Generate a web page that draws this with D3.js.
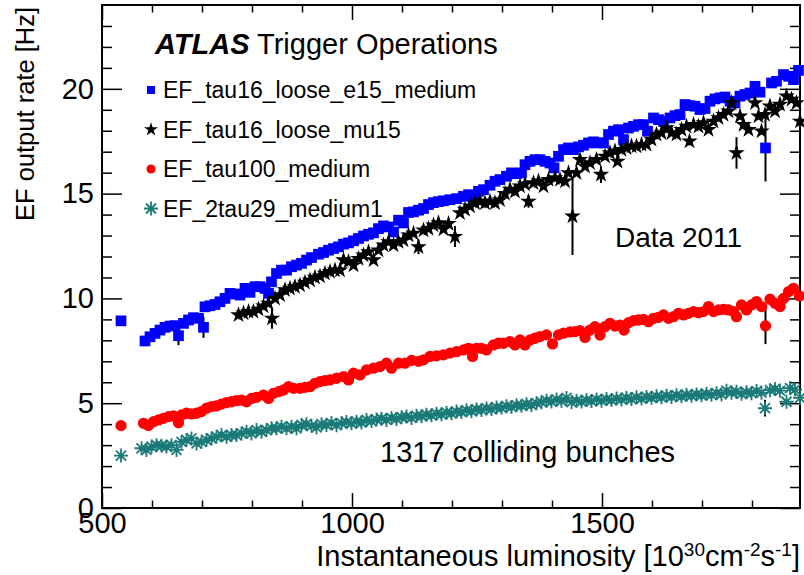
<!DOCTYPE html>
<html><head><meta charset="utf-8">
<script src="https://cdn.jsdelivr.net/npm/d3@7"></script>
<style>
body{margin:0;background:#fff}
text{font-family:"Liberation Sans",Arial,Helvetica,sans-serif;fill:#000}
</style>
</head><body>
<svg id="c" width="804" height="575"></svg>
<script>
// ---------------- data ----------------
const xMajorTicks = [500, 1000, 1500];
const xMinorTicks = [600, 700, 800, 900, 1100, 1200, 1300, 1400, 1600, 1700, 1800];
const yMajorTicks = [0, 5, 10, 15, 20];
const yMinorTicks = [1,2,3,4,6,7,8,9,11,12,13,14,16,17,18,19,21,22,23];

const seriesNames = ["EF_tau16_loose_e15_medium", "EF_tau16_loose_mu15", "EF_tau100_medium", "EF_2tau29_medium1"];
const seriesColors = ["#0000ff", "#000000", "#ff0000", "#1a7a78"];

// [luminosity, rate, error]
const tauE15 = [
[538,8.93],[586,7.97],[596,8.17],[606,8.33],[616,8.49],[626,8.62],[636,8.68],[646,8.70],[653,8.22,0.45],
[663,8.81],[673,8.97],[683,9.08],[693,9.05],[703,8.62,0.5],[706,9.60],[716,9.65],[726,9.71],[736,9.84],
[746,10.0],[756,10.24],[766,10.21],[776,10.16],[786,10.48],[796,10.29],[806,10.56],[816,10.56],[826,10.48],
[833,10.24],[839,10.79],[849,11.19],[859,11.35],[869,11.35],[879,11.51],[889,11.59],[899,11.67],[909,11.83],
[919,11.95],[933,12.11],[943,12.19],[953,12.30],[963,12.38],[973,12.46],[983,12.59],[993,12.65],[1003,12.75],
[1013,12.86],[1023,12.98],[1033,13.06],[1043,13.13],[1053,13.33],[1063,13.46],[1073,13.41],[1083,13.17],
[1093,13.73],[1103,13.60],[1113,14.10],[1123,14.13],[1133,14.21],[1143,14.29],[1153,14.48],[1163,14.57],
[1173,14.62],[1183,14.66],[1196,14.71],[1209,14.76],[1223,14.87],[1233,14.95],[1243,14.71],[1253,15.11],
[1263,15.19],[1276,15.40],[1286,15.59],[1296,15.67],[1309,15.83],[1319,15.99],[1329,15.95],[1339,15.99],
[1346,16.38],[1356,16.54],[1366,16.62],[1376,16.62],[1386,16.54],[1396,16.46],[1404,16.23],[1413,16.78],
[1423,17.10],[1433,17.18],[1443,17.10],[1453,17.23],[1463,17.31],[1473,17.42],[1483,17.47],[1493,17.42],
[1503,17.42],[1513,17.82],[1523,17.98],[1533,18.05],[1543,17.58],[1553,18.13],[1563,18.21],[1573,18.29],
[1583,18.29],[1591,17.98],[1603,18.61],[1613,18.53],[1623,18.45],[1636,18.61],[1646,18.72],[1656,18.77],
[1666,19.25],[1676,19.20],[1686,19.17],[1696,19.01],[1706,19.06],[1716,19.41],[1726,19.52],[1736,19.57],
[1746,19.61],[1756,19.41],[1766,19.33],[1776,19.65],[1786,19.73],[1796,19.80],[1806,20.12],[1816,19.84],
[1827,17.18,1.6],[1839,20.28],[1849,20.36],[1863,20.68],[1873,20.60],[1883,20.44],[1893,20.88]
];

const tauMu15 = [
[773,9.21],[783,9.29],[793,9.37],[803,9.37],[813,9.48],[823,9.63],[833,9.76],[840,9.05,0.5],[846,10.0],
[856,10.16],[866,10.40],[876,10.48],[886,10.56],[896,10.63],[906,10.76],[916,10.87],[926,11.0],[936,11.06],
[946,11.19],[956,11.27],[966,11.35],[976,11.35],[983,11.83],[993,11.75],[1003,11.59],[1013,11.90],[1023,12.06],
[1033,12.22],[1043,11.83],[1053,12.30],[1063,12.54],[1073,12.70],[1083,12.54],[1093,12.70],[1103,12.78],
[1113,13.02],[1123,13.10],[1133,12.46,0.35],[1143,13.25],[1153,13.33],[1163,13.49],[1173,13.60],[1183,13.30],
[1193,13.57],[1206,12.95,0.5],[1216,14.08],[1226,14.24],[1236,14.40],[1246,14.55],[1256,14.63],[1266,14.55],
[1276,14.63],[1286,14.55],[1296,14.70],[1306,15.0],[1316,15.2],[1326,15.1],[1336,15.35],[1346,15.45],
[1353,14.63,0.3],[1363,15.51],[1373,15.59],[1383,15.35],[1393,15.67],[1406,15.75],[1416,15.67],[1426,15.59],
[1433,15.99],[1441,13.92,1.85],[1449,15.99],[1456,16.62],[1466,16.30],[1476,16.46],[1489,16.62],[1498,15.91,0.4],
[1506,16.78],[1516,16.94],[1526,17.02],[1531,16.54],[1539,17.10],[1549,17.18],[1559,17.26],[1569,17.26],
[1579,17.34],[1589,17.34],[1599,17.58],[1609,17.82],[1619,17.90],[1629,18.13],[1639,17.90],[1649,17.82],
[1659,18.05],[1669,18.21],[1675,17.50,0.2],[1683,18.29],[1693,18.21],[1703,18.37],[1713,18.05],[1723,18.45],
[1733,18.61],[1743,18.77],[1753,18.93],[1759,19.33],[1769,16.94,0.75],[1776,18.69],[1783,18.29],[1793,18.05],
[1806,19.33],[1813,18.69],[1819,17.98],[1826,18.77],[1836,19.17],[1846,18.93],[1856,19.25],[1869,19.65],
[1879,19.49],[1889,19.33],[1896,18.45,0.7]
];

const tau100 = [
[538,3.93],[583,4.04],[593,3.93],[603,4.12],[613,4.20],[623,4.28],[633,4.36],[643,4.39],[653,4.07],[659,4.44],
[669,4.52],[679,4.49],[689,4.52],[699,4.60],[709,4.76],[719,4.84],[729,4.87],[739,4.96],[749,5.03],[759,5.07],
[769,5.12],[779,5.15],[789,5.07],[799,5.23],[809,5.28],[823,5.39],[833,5.23],[843,5.47],[853,5.55],[863,5.63],
[873,5.79],[883,5.71],[896,5.71],[906,5.76],[916,5.79],[926,5.95],[936,6.03],[946,6.08],[956,6.11],[969,6.19],
[983,6.27],[993,6.11],[1003,6.43],[1016,6.35],[1029,6.59],[1043,6.67],[1056,6.75],[1069,6.91],[1079,6.67],
[1093,6.91],[1106,6.91],[1119,7.04],[1133,7.00],[1143,7.07],[1156,7.23],[1169,7.26],[1183,7.31],[1196,7.39],
[1209,7.46],[1223,7.54],[1233,7.62],[1241,7.23,0.15],[1249,7.62],[1259,7.62],[1269,7.54],[1283,7.78],[1293,7.86],
[1303,7.86],[1316,7.94],[1326,7.78],[1336,8.02],[1346,7.78],[1356,8.02],[1366,8.10],[1376,8.18],[1389,8.26],
[1401,7.83,0.15],[1413,8.26],[1423,8.34],[1436,8.40],[1446,8.42],[1456,8.46],[1466,8.14],[1476,8.49],[1486,8.65],
[1496,8.25],[1506,8.65],[1516,8.81],[1526,8.68],[1536,8.73],[1544,8.49],[1553,8.84],[1563,8.94],[1573,8.97],
[1583,9.00],[1593,8.89],[1603,9.05],[1613,9.10],[1623,9.21],[1633,9.05],[1643,9.13],[1653,9.29],[1663,9.21],
[1673,9.29],[1683,9.37],[1693,9.32],[1703,9.37],[1713,9.61],[1723,9.37],[1733,9.45],[1743,9.48],[1753,9.45],
[1763,9.37],[1769,9.13],[1779,9.69],[1789,9.45],[1799,9.69],[1809,9.85],[1819,9.61],[1827,8.69,0.87],
[1836,9.96],[1846,9.77],[1856,9.61,0.2],[1863,10.00],[1873,10.32],[1883,10.48],[1895,10.12]
];

const tau29x2 = [
[538,2.50],[579,2.85],[589,2.77],[599,2.93],[609,3.00],[619,2.97],[629,2.93],[639,3.00],[649,2.77],[659,3.16],
[669,3.24],[679,3.32],[689,3.08],[699,3.16],[709,3.24],[719,3.32],[729,3.40],[739,3.48],[749,3.40],[759,3.48],
[769,3.48],[779,3.56],[789,3.64],[799,3.56],[809,3.72],[819,3.64],[829,3.72],[839,3.80],[849,3.80],[859,3.88],
[869,3.80],[879,3.88],[889,3.80],[899,3.96],[909,4.00],[919,3.92],[929,3.85],[939,4.00],[949,3.96],[959,4.05],
[969,3.95],[979,4.05],[989,4.10],[999,4.04],[1009,4.12],[1019,4.08],[1029,4.20],[1039,4.15],[1049,4.22],
[1059,4.26],[1069,4.20],[1079,4.30],[1089,4.25],[1099,4.33],[1109,4.36],[1119,4.30],[1129,4.40],[1139,4.38],
[1149,4.45],[1159,4.42],[1169,4.50],[1179,4.47],[1189,4.55],[1199,4.52],[1209,4.60],[1219,4.58],[1229,4.66],
[1239,4.62],[1249,4.70],[1259,4.68],[1269,4.75],[1279,4.72],[1289,4.80],[1299,4.78],[1309,4.86],[1319,4.82],
[1329,4.90],[1339,4.88],[1349,4.95],[1359,4.92],[1369,5.00],[1379,5.05],[1389,5.12],[1399,5.08],[1409,5.18],
[1419,5.10],[1429,5.25],[1439,5.05],[1449,5.12],[1459,5.08],[1469,5.15],[1479,5.10],[1489,5.18],[1499,5.12],
[1509,5.20],[1519,5.15],[1529,5.22],[1539,5.18],[1549,5.25],[1559,5.20],[1569,5.28],[1579,5.22],[1589,5.30],
[1599,5.26],[1609,5.33],[1619,5.28],[1629,5.36],[1639,5.30],[1649,5.38],[1659,5.33],[1669,5.40],[1679,5.36],
[1689,5.42],[1699,5.38],[1709,5.45],[1719,5.40],[1729,5.48],[1739,5.42],[1749,5.60],[1759,5.50],[1769,5.55],
[1779,5.45],[1789,5.52],[1799,5.48],[1809,5.58],[1819,5.50],[1826,4.76,0.4],[1836,5.62],[1846,5.68],[1856,5.60],
[1869,5.07],[1876,5.72],[1886,5.65],[1896,5.25]
];

// ---------------- drawing ----------------
const svg = d3.select("#c");
const x = d3.scaleLinear().domain([500, 1896]).range([102, 800]);
const y = d3.scaleLinear().domain([0, 24]).range([508, 5]);

function styleAxis(g){
  g.select(".domain").remove();
  g.selectAll(".tick line").attr("stroke","#000").attr("stroke-width",1.5);
  g.selectAll("text").attr("font-family",'"Liberation Sans",Arial,sans-serif').attr("font-size",29).attr("fill","#000");
}

// bottom
svg.append("g").attr("transform","translate(0,508)")
  .call(d3.axisBottom(x).tickValues(xMajorTicks).tickSize(-15).tickPadding(4).tickFormat(d3.format("d"))).call(styleAxis);
svg.append("g").attr("transform","translate(0,508)")
  .call(d3.axisBottom(x).tickValues(xMinorTicks).tickSize(-7.5).tickFormat("")).call(styleAxis);
// top
svg.append("g").attr("transform","translate(0,5)")
  .call(d3.axisTop(x).tickValues(xMajorTicks).tickSize(-15).tickFormat("")).call(styleAxis);
svg.append("g").attr("transform","translate(0,5)")
  .call(d3.axisTop(x).tickValues(xMinorTicks).tickSize(-7.5).tickFormat("")).call(styleAxis);
// left
svg.append("g").attr("transform","translate(102,0)")
  .call(d3.axisLeft(y).tickValues(yMajorTicks).tickSize(-20).tickPadding(8).tickFormat(d3.format("d"))).call(styleAxis);
svg.append("g").attr("transform","translate(102,0)")
  .call(d3.axisLeft(y).tickValues(yMinorTicks).tickSize(-10).tickFormat("")).call(styleAxis);
// right
svg.append("g").attr("transform","translate(800,0)")
  .call(d3.axisRight(y).tickValues(yMajorTicks).tickSize(-20).tickFormat("")).call(styleAxis);
svg.append("g").attr("transform","translate(800,0)")
  .call(d3.axisRight(y).tickValues(yMinorTicks).tickSize(-10).tickFormat("")).call(styleAxis);

// frame
svg.append("rect").attr("x",102).attr("y",5).attr("width",698).attr("height",503)
  .attr("fill","none").attr("stroke","#000").attr("stroke-width",2);

// markers
const starPath = d3.symbol().type(d3.symbolStar).size(85)();
const squarePath = d3.symbol().type(d3.symbolSquare).size(115)();
const circlePath = d3.symbol().type(d3.symbolCircle).size(100)();
const astPath = "M-7,0H7M0,-7V7M-5,-5L5,5M-5,5L5,-5";

const series = [
  {data: tauE15, path: squarePath, color: seriesColors[0], stroke: false},
  {data: tauMu15, path: starPath, color: seriesColors[1], stroke: false},
  {data: tau100, path: circlePath, color: seriesColors[2], stroke: false},
  {data: tau29x2, path: astPath, color: seriesColors[3], stroke: true}
];

const plot = svg.append("g");
series.forEach(s => {
  const g = plot.append("g");
  g.selectAll("line.err").data(s.data.filter(d => d[2] > 0)).join("line")
    .attr("x1", d => x(d[0])).attr("x2", d => x(d[0]))
    .attr("y1", d => y(d[1] - d[2])).attr("y2", d => y(d[1] + d[2]))
    .attr("stroke", "#000").attr("stroke-width", 2);
  g.selectAll("path.m").data(s.data).join("path")
    .attr("d", s.path)
    .attr("transform", d => `translate(${x(d[0])},${y(d[1])})`)
    .attr("fill", s.stroke ? "none" : s.color)
    .attr("stroke", s.stroke ? s.color : "none")
    .attr("stroke-width", s.stroke ? 1.8 : 0);
});

// title
const t = svg.append("text").attr("x",155).attr("y",54).attr("font-size",29);
t.append("tspan").attr("font-weight","bold").attr("font-style","italic").text("ATLAS");
t.append("tspan").text(" Trigger Operations");

// legend
const legPaths = [
  d3.symbol().type(d3.symbolSquare).size(64)(),
  d3.symbol().type(d3.symbolStar).size(60)(),
  d3.symbol().type(d3.symbolCircle).size(64)(),
  astPath
];
seriesNames.forEach((name, i) => {
  const cy = 90 + i * 39.5;
  svg.append("path").attr("d", legPaths[i]).attr("transform",`translate(151,${cy})`)
    .attr("fill", i === 3 ? "none" : seriesColors[i])
    .attr("stroke", i === 3 ? seriesColors[i] : "none").attr("stroke-width", 1.8);
  svg.append("text").attr("x",163).attr("y",cy + 8).attr("font-size",23).text(name);
});

svg.append("text").attr("x",615).attr("y",247).attr("font-size",28).text("Data 2011");
svg.append("text").attr("x",380).attr("y",462).attr("font-size",29).text("1317 colliding bunches");

// axis titles
const xt = svg.append("text").attr("x",800).attr("y",566).attr("font-size",29).attr("text-anchor","end");
xt.append("tspan").text("Instantaneous luminosity [10");
xt.append("tspan").attr("font-size",19).attr("dy",-10).text("30");
xt.append("tspan").attr("dy",10).text("cm");
xt.append("tspan").attr("font-size",19).attr("dy",-10).text("-2");
xt.append("tspan").attr("dy",10).text("s");
xt.append("tspan").attr("font-size",19).attr("dy",-10).text("-1");
xt.append("tspan").attr("dy",10).text("]");

svg.append("text").attr("transform","translate(34,7) rotate(-90)")
  .attr("text-anchor","end").attr("font-size",25.5).text("EF output rate [Hz]");
</script>
</body></html>
